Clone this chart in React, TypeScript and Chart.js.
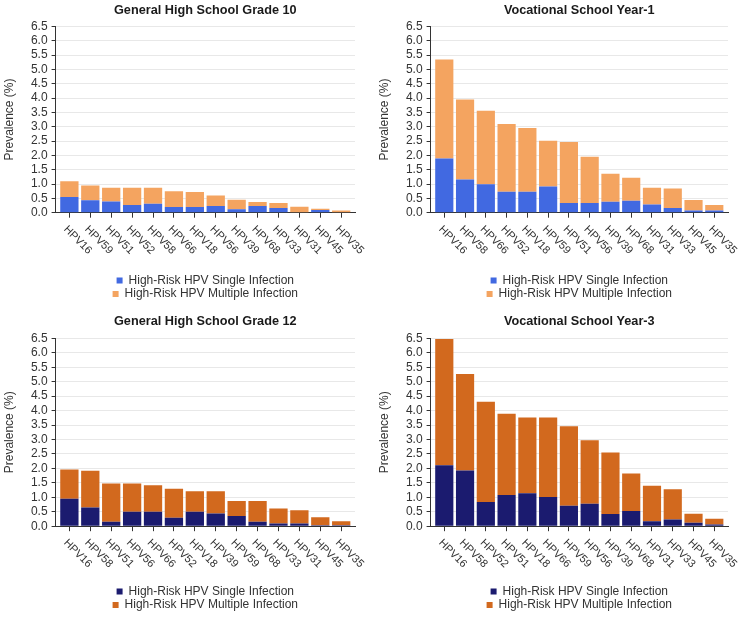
import React, { useEffect, useRef } from 'react';
import { Chart, registerables } from 'chart.js';

Chart.register(...registerables);

const FONT = '"Liberation Sans", Arial, Helvetica, sans-serif';

// ---- Data ----
const legendLabels = ['High-Risk HPV Single Infection', 'High-Risk HPV Multiple Infection'];
const yAxisTitle = 'Prevalence (%)';
const yMin = 0;
const yMax = 6.5;
const yStep = 0.5;

const gen10Title = 'General High School Grade 10';
const gen10Categories = ['HPV16', 'HPV59', 'HPV51', 'HPV52', 'HPV58', 'HPV66', 'HPV18', 'HPV56', 'HPV39', 'HPV68', 'HPV33', 'HPV31', 'HPV45', 'HPV35'];
const gen10Single = [0.55, 0.43, 0.39, 0.27, 0.31, 0.20, 0.20, 0.23, 0.12, 0.23, 0.16, 0.0, 0.09, 0.0];
const gen10Multiple = [0.55, 0.52, 0.48, 0.60, 0.56, 0.55, 0.52, 0.37, 0.33, 0.14, 0.18, 0.21, 0.05, 0.08];

const voc1Title = 'Vocational School Year-1';
const voc1Categories = ['HPV16', 'HPV58', 'HPV66', 'HPV52', 'HPV18', 'HPV59', 'HPV51', 'HPV56', 'HPV39', 'HPV68', 'HPV31', 'HPV33', 'HPV45', 'HPV35'];
const voc1Single = [1.89, 1.16, 0.99, 0.73, 0.73, 0.91, 0.34, 0.34, 0.38, 0.42, 0.29, 0.16, 0.08, 0.08];
const voc1Multiple = [3.45, 2.79, 2.57, 2.36, 2.22, 1.60, 2.13, 1.61, 0.98, 0.80, 0.58, 0.68, 0.36, 0.19];

const gen12Title = 'General High School Grade 12';
const gen12Categories = ['HPV16', 'HPV58', 'HPV51', 'HPV56', 'HPV66', 'HPV52', 'HPV18', 'HPV39', 'HPV59', 'HPV68', 'HPV33', 'HPV31', 'HPV45', 'HPV35'];
const gen12Single = [0.95, 0.65, 0.15, 0.50, 0.50, 0.29, 0.50, 0.44, 0.35, 0.15, 0.09, 0.09, 0.03, 0.03];
const gen12Multiple = [1.01, 1.27, 1.33, 0.98, 0.92, 1.01, 0.71, 0.77, 0.52, 0.72, 0.52, 0.46, 0.28, 0.14];

const voc3Title = 'Vocational School Year-3';
const voc3Categories = ['HPV16', 'HPV58', 'HPV52', 'HPV51', 'HPV18', 'HPV66', 'HPV59', 'HPV56', 'HPV39', 'HPV68', 'HPV31', 'HPV33', 'HPV45', 'HPV35'];
const voc3Single = [2.11, 1.93, 0.84, 1.08, 1.14, 1.01, 0.71, 0.78, 0.42, 0.53, 0.17, 0.23, 0.12, 0.06];
const voc3Multiple = [4.37, 3.34, 3.47, 2.81, 2.62, 2.75, 2.75, 2.19, 2.13, 1.29, 1.23, 1.05, 0.31, 0.20];

const lightColors = ['#4169E1', '#F4A460'];
const darkColors = ['#1B1B6F', '#D2691E'];

// Draws rotated category labels (text starting at the tick, running down-right)
const xLabelPlugin = {
  id: 'xLabels',
  afterDraw(chart: any, _args: any, opts: any) {
    const { ctx } = chart;
    const xs = chart.scales.x;
    const labels: string[] = opts.labels || [];
    ctx.save();
    ctx.font = `11px ${FONT}`;
    ctx.fillStyle = '#333';
    ctx.textAlign = 'left';
    ctx.textBaseline = 'middle';
    labels.forEach((lab, i) => {
      const px = xs.getPixelForValue(i);
      ctx.save();
      ctx.translate(px - 4, xs.top + 15);
      ctx.rotate(Math.PI / 4);
      ctx.fillText(lab, 0, 0);
      ctx.restore();
    });
    ctx.restore();
  },
};

type PanelProps = {
  title: string;
  categories: string[];
  single: number[];
  multiple: number[];
  colors: string[];
  left: number;
  top: number;
  width: number;
  height: number;
  padRight: number;
  titlePadTop: number;
  titlePadBottom: number;
  xAxisHeight: number;
};

function Panel(p: PanelProps) {
  const ref = useRef<HTMLCanvasElement>(null);
  useEffect(() => {
    const n = p.categories.length;
    const chart = new Chart(ref.current as HTMLCanvasElement, {
      type: 'bar',
      data: {
        datasets: [
          {
            label: legendLabels[0],
            data: p.single.map((v, i) => ({ x: i, y: v })),
            backgroundColor: p.colors[0],
            borderWidth: 0,
            categoryPercentage: 1,
            barPercentage: 0.875,
          },
          {
            label: legendLabels[1],
            data: p.multiple.map((v, i) => ({ x: i, y: v })),
            backgroundColor: p.colors[1],
            borderWidth: 0,
            categoryPercentage: 1,
            barPercentage: 0.875,
          },
        ],
      } as any,
      options: {
        responsive: false,
        animation: false,
        layout: { padding: { right: p.padRight } },
        scales: {
          x: {
            type: 'linear',
            min: -0.66,
            max: n - 1 + 0.66,
            stacked: true,
            offset: false,
            afterBuildTicks: (s: any) => {
              s.ticks = p.categories.map((_, i) => ({ value: i }));
            },
            afterFit: (s: any) => {
              s.height = p.xAxisHeight;
            },
            grid: { offset: false, drawOnChartArea: false, drawTicks: true, tickLength: 5, tickColor: '#333' },
            border: { color: '#333', width: 1 },
            ticks: { display: false },
          },
          y: {
            min: yMin,
            max: yMax,
            stacked: true,
            ticks: {
              stepSize: yStep,
              maxTicksLimit: 30,
              autoSkip: false,
              callback: (v: any) => Number(v).toFixed(1),
              font: { family: FONT, size: 12 },
              color: '#333',
              padding: 4,
            },
            grid: { color: '#e8e8e8', tickColor: '#333', tickLength: 4 },
            border: { color: '#333', width: 1 },
            title: {
              display: true,
              text: yAxisTitle,
              font: { family: FONT, size: 12 },
              color: '#333',
              padding: { top: 2, bottom: 10.5 },
            },
          },
        } as any,
        plugins: {
          title: {
            display: true,
            text: p.title,
            fullSize: false,
            font: { family: FONT, size: 12.7, weight: 'bold' },
            color: '#1a1a1a',
            padding: { top: p.titlePadTop, bottom: p.titlePadBottom },
          },
          legend: {
            position: 'bottom',
            fullSize: false,
            labels: {
              boxWidth: 6,
              boxHeight: 6,
              padding: 1.5,
              font: { family: FONT, size: 12 },
              color: '#333',
            },
          },
          tooltip: { enabled: false },
          xLabels: { labels: p.categories },
        } as any,
      },
      plugins: [xLabelPlugin],
    });
    return () => chart.destroy();
  }, []);
  return (
    <canvas
      ref={ref}
      width={p.width}
      height={p.height}
      style={{ position: 'absolute', left: p.left, top: p.top, width: p.width, height: p.height }}
    />
  );
}

export default function App() {
  return (
    <div
      style={{
        position: 'fixed',
        left: 0,
        top: 0,
        width: 740,
        height: 618,
        overflow: 'hidden',
        background: '#fff',
      }}
    >
      <Panel
        title={gen10Title}
        categories={gen10Categories}
        single={gen10Single}
        multiple={gen10Multiple}
        colors={lightColors}
        left={0}
        top={0}
        width={370}
        height={310}
        padRight={15}
        titlePadTop={2.5}
        titlePadBottom={8.6}
        xAxisHeight={60.3}
      />
      <Panel
        title={voc1Title}
        categories={voc1Categories}
        single={voc1Single}
        multiple={voc1Multiple}
        colors={lightColors}
        left={375}
        top={0}
        width={365}
        height={310}
        padRight={12}
        titlePadTop={2.5}
        titlePadBottom={8.6}
        xAxisHeight={60.3}
      />
      <Panel
        title={gen12Title}
        categories={gen12Categories}
        single={gen12Single}
        multiple={gen12Multiple}
        colors={darkColors}
        left={0}
        top={312}
        width={370}
        height={309}
        padRight={15}
        titlePadTop={2.1}
        titlePadBottom={9}
        xAxisHeight={57.8}
      />
      <Panel
        title={voc3Title}
        categories={voc3Categories}
        single={voc3Single}
        multiple={voc3Multiple}
        colors={darkColors}
        left={375}
        top={312}
        width={365}
        height={309}
        padRight={12}
        titlePadTop={2.1}
        titlePadBottom={9}
        xAxisHeight={57.8}
      />
    </div>
  );
}
